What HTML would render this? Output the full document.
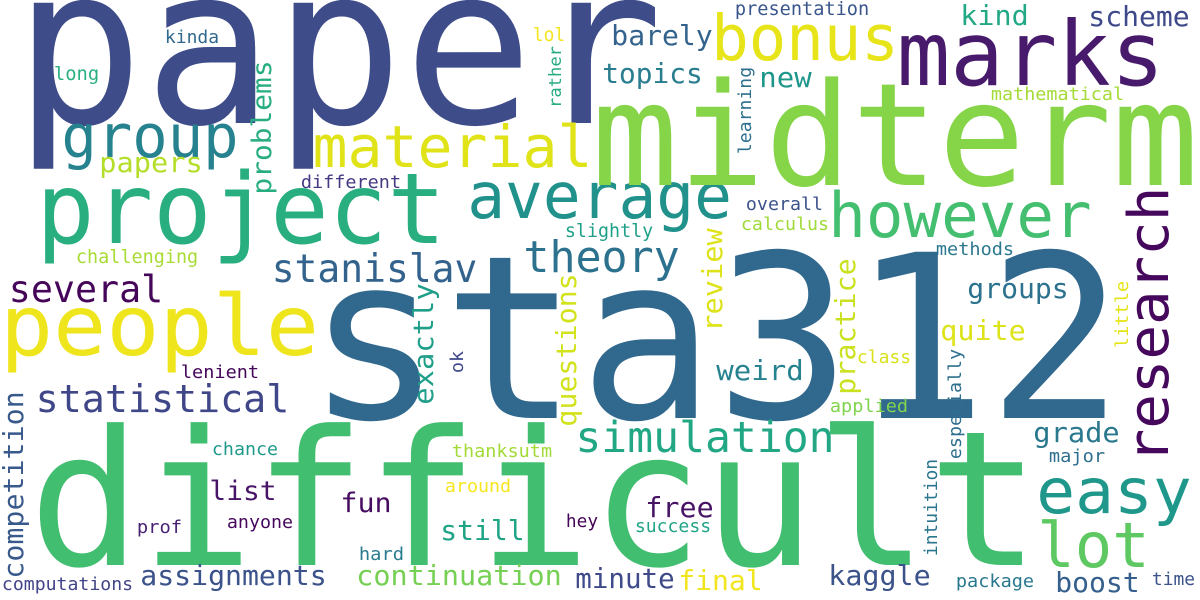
<!DOCTYPE html>
<html><head><meta charset="utf-8">
<style>
html,body{margin:0;padding:0;background:#fff;}
svg{display:block;}
text{font-family:"DejaVu Sans Mono","Liberation Mono",monospace;}
</style></head>
<body>
<svg id="wc" width="1200" height="600" viewBox="0 0 1200 600" xmlns="http://www.w3.org/2000/svg">
<rect width="1200" height="600" fill="#ffffff"/>
</svg>
<script>
// horizontal words: [word, inkLeft, inkRight, baseline, fontSize, color]
const hWords = [
["paper",27,650,123,220,"#3e4c8a"],
["group",65,235,157,60,"#26828e"],
["material",316,589,167,58,"#dfe318"],
["papers",101,201,172,28,"#b5de2b"],
["kinda",166,218,43,18,"#31688e"],
["long",55,98,80,19,"#2ab07f"],
["lol",534,564,41,19,"#f4e61e"],
["different",302,400,188,18,"#443983"],
["project",42,440,243,98,"#29af7f"],
["average",471,728,218,64,"#21918c"],
["theory",526,677,272,44,"#2c728e"],
["slightly",566,652,237,19,"#1fa088"],
["challenging",77,197,263,19,"#a8db34"],
["stanislav",274,475,282,39,"#33638d"],
["several",11,161,302,37,"#450559"],
["presentation",736,868,15,19,"#39568c"],
["bonus",715,895,60,63,"#e7e419"],
["marks",902,1159,85,89,"#481a6c"],
["kind",962,1027,25,28,"#22a884"],
["scheme",1090,1188,26,28,"#3e4989"],
["barely",613,711,45,28,"#33638d"],
["topics",604,701,83,28,"#287d8e"],
["new",761,810,87,28,"#1f968b"],
["mathematical",992,1123,100,18,"#a5db36"],
["midterm",600,1190,185,143,"#86d549"],
["however",832,1088,237,62,"#44bf70"],
["overall",747,822,210,18,"#3b528b"],
["calculus",742,828,230,18,"#a0da39"],
["methods",937,1013,255,18,"#2a788e"],
["groups",969,1067,298,28,"#2c728e"],
["people",5,314,355,84,"#efe51c"],
["lenient",182,258,378,18,"#45065a"],
["statistical",38,287,412,38,"#3f4788"],
["sta312",320,1110,418,228,"#31688e"],
["difficult",40,1029,565,188,"#42be71"],
["chance",213,277,455,18,"#1f9a8a"],
["thanksutm",453,551,457,18,"#a2da37"],
["list",211,275,500,27,"#481467"],
["fun",342,390,512,27,"#470d60"],
["around",446,510,492,18,"#f6e620"],
["prof",138,181,533,18,"#482173"],
["anyone",228,292,528,18,"#46085c"],
["still",442,523,540,28,"#20a486"],
["hey",567,597,527,18,"#450457"],
["hard",360,403,560,18,"#287c8e"],
["assignments",142,325,585,28,"#3b528b"],
["continuation",358,560,585,28,"#75d054"],
["computations",3,132,590,18,"#414487"],
["minute",577,673,588,28,"#3e4a89"],
["simulation",578,832,452,43,"#22a785"],
["weird",718,802,380,28,"#26828e"],
["quite",942,1024,340,28,"#dde318"],
["class",858,910,363,18,"#d8e219"],
["applied",831,907,412,18,"#7fd34e"],
["grade",1035,1118,442,28,"#2a788e"],
["major",1050,1104,462,18,"#2e6e8e"],
["easy",1040,1188,513,62,"#1f988b"],
["lot",1041,1146,567,62,"#5ec962"],
["free",647,712,517,28,"#471365"],
["success",636,710,532,18,"#20a386"],
["final",680,761,590,28,"#f1e51d"],
["kaggle",830,929,585,28,"#3b528b"],
["package",957,1033,587,18,"#2a788e"],
["boost",1057,1138,592,28,"#355f8d"],
["time",1153,1194,585,18,"#3b528b"]
];
// vertical words (read bottom-to-top): [word, baselineX, yTop, yBottom, fontSize, color]
const vWords = [
["problems",271,62,193,27,"#27ad81"],
["rather",561,47,107,17,"#25ab82"],
["learning",751,68,153,18,"#2d708e"],
["research",1168,190,460,56,"#46085c"],
["exactly",433,285,403,28,"#1f9e89"],
["ok",463,352,372,18,"#3f4889"],
["questions",576,275,425,28,"#d2e21b"],
["competition",23,393,577,28,"#38598c"],
["review",722,230,330,28,"#dde318"],
["practice",855,260,393,28,"#cae11f"],
["especially",961,350,458,18,"#2e6f8e"],
["little",1128,282,347,18,"#e5e419"],
["intuition",937,460,555,18,"#2a768e"]
];
const NS="http://www.w3.org/2000/svg";
const svg=document.getElementById("wc");
hWords.forEach(w=>{
  const [word,l,r,b,fs,c]=w;
  const t=document.createElementNS(NS,"text");
  t.setAttribute("x",(l-0.06*fs).toFixed(1));
  t.setAttribute("y",b);
  t.setAttribute("font-size",fs);
  t.setAttribute("fill",c);
  t.setAttribute("textLength",(r-l+0.12*fs).toFixed(1));
  t.setAttribute("lengthAdjust","spacingAndGlyphs");
  
  
  t.textContent=word;
  svg.appendChild(t);
});
vWords.forEach(w=>{
  const [word,bx,top,bot,fs,c]=w;
  const t=document.createElementNS(NS,"text");
  const sx=bot+0.06*fs;
  t.setAttribute("x",0);
  t.setAttribute("y",0);
  t.setAttribute("transform","translate("+bx+","+sx.toFixed(1)+") rotate(-90)");
  t.setAttribute("font-size",fs);
  t.setAttribute("fill",c);
  t.setAttribute("textLength",(bot-top+0.12*fs).toFixed(1));
  t.setAttribute("lengthAdjust","spacingAndGlyphs");
  
  
  t.textContent=word;
  svg.appendChild(t);
});
</script>
</body></html>
